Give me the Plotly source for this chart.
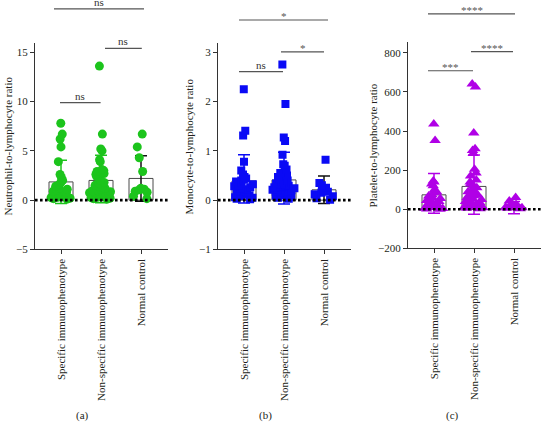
import plotly.graph_objects as go

categories = ["Specific immunophenotype", "Non-specific immunophenotype", "Normal control"]

# ---- Panel (a): Neutrophil-to-lymphocyte ratio ----
nlr_specific = [7.8, 6.7, 6.2, 5.4, 3.9, 2.6, 2.3, 2.0, 1.8, 1.6, 1.4, 1.2, 1.1, 1.0,
                0.9, 0.8, 0.7, 0.6, 0.55, 0.5, 0.45, 0.4, 0.35, 0.3, 0.25, 0.2, 0.15, 0.1]
nlr_nonspecific = [13.6, 6.7, 5.2, 5.0, 4.1, 3.9, 3.1, 3.0, 2.9, 2.7, 2.6, 2.4, 2.0, 1.8,
                   1.7, 1.6, 1.5, 1.4, 1.3, 1.2, 1.1, 1.0, 0.95, 0.9, 0.85, 0.8, 0.75, 0.7,
                   0.65, 0.6, 0.55, 0.5, 0.45, 0.4, 0.35, 0.3, 0.25, 0.2, 0.15, 0.1]
nlr_normal = [6.7, 5.4, 4.3, 2.9, 1.2, 1.1, 1.05, 0.9, 0.8, 0.4, 0.15]
nlr_mean = [1.85, 2.0, 2.2]
nlr_err_plus = [2.2, 2.55, 2.3]
nlr_err_minus = [2.2, 2.27, 2.3]

# ---- Panel (b): Monocyte-to-lymphocyte ratio ----
mlr_specific = [2.25, 1.41, 1.31, 0.78, 0.6, 0.52, 0.47, 0.44, 0.42, 0.4, 0.38, 0.35,
                0.32, 0.3, 0.28, 0.26, 0.24, 0.22, 0.2, 0.18, 0.15, 0.12, 0.1, 0.08,
                0.06, 0.05, 0.03, 0.02]
mlr_nonspecific = [2.75, 1.95, 1.27, 1.2, 0.92, 0.73, 0.7, 0.62, 0.55, 0.5, 0.47, 0.44,
                   0.42, 0.4, 0.38, 0.36, 0.34, 0.32, 0.3, 0.29, 0.28, 0.27, 0.26, 0.25,
                   0.24, 0.22, 0.21, 0.2, 0.19, 0.18, 0.17, 0.16, 0.15, 0.14, 0.12, 0.1,
                   0.09, 0.07, 0.05, 0.03]
mlr_normal = [0.82, 0.35, 0.3, 0.25, 0.2, 0.17, 0.15, 0.12, 0.08, 0.04, 0.01]
mlr_mean = [0.39, 0.41, 0.21]
mlr_err_plus = [0.53, 0.56, 0.28]
mlr_err_minus = [0.45, 0.49, 0.28]

# ---- Panel (c): Platelet-to-lymphocyte ratio ----
plr_specific = [436, 352, 145, 140, 130, 120, 100, 90, 85, 75, 68, 60, 55, 50, 45, 40,
                35, 30, 26, 22, 18, 15, 12, 9, 6, 4, 2, 1]
plr_nonspecific = [640, 625, 390, 310, 300, 285, 205, 185, 170, 150, 140, 130, 120, 110,
                   100, 95, 90, 85, 80, 75, 70, 65, 60, 55, 50, 45, 40, 35, 30, 28, 25,
                   22, 20, 18, 15, 12, 10, 8, 5, 3]
plr_normal = [60, 42, 30, 25, 20, 15, 12, 10, 8, 5, 3]
plr_mean = [74, 117, 9]
plr_err_plus = [109, 161, 31]
plr_err_minus = [94, 142, 31]

y_titles = ["Neutrophil-to-lymphocyte ratio", "Monocyte-to-lymphocyte ratio",
            "Platelet-to-lymphocyte ratio"]
panel_tags = ["(a)", "(b)", "(c)"]

# ---- styling / layout constants ----
W, H = 542, 427
FONT = "Liberation Serif"
TXT = "#231f20"
X_RANGE = [-0.65, 2.675]
panels = [
    dict(groups=[nlr_specific, nlr_nonspecific, nlr_normal], mean=nlr_mean,
         ep=nlr_err_plus, em=nlr_err_minus, color="#1cc41c", symbol="circle", msize=9,
         err3="#111111", yrange=[-5, 15.9], dtick=5, xpx=(35, 168), ypx=(44, 253),
         title_x=8, tag_x=82),
    dict(groups=[mlr_specific, mlr_nonspecific, mlr_normal], mean=mlr_mean,
         ep=mlr_err_plus, em=mlr_err_minus, color="#0a0af5", symbol="square", msize=8,
         err3="#111111", yrange=[-1, 3.18], dtick=1, xpx=(218, 351), ypx=(44, 253),
         title_x=189, tag_x=265),
    dict(groups=[plr_specific, plr_nonspecific, plr_normal], mean=plr_mean,
         ep=plr_err_plus, em=plr_err_minus, color="#b000e6", symbol="triangle-up",
         msize=10, err3="#b000e6", yrange=[-200, 853], dtick=200, xpx=(408, 541),
         ypx=(43, 252), title_x=373, tag_x=452),
]

# significance brackets: (x0, x1, y, text)
brackets = [
    [(-0.175, 2.075, 19.4, "ns"), (1.1, 2.02, 15.4, "ns"), (-0.025, 0.99, 9.9, "ns")],
    [(-0.125, 2.1, 3.654, "*"), (0.925, 2.0, 3.008, "*"), (-0.125, 0.975, 2.608, "ns")],
    [(-0.15, 2.025, 999, "****"), (0.925, 1.975, 806, "****"), (-0.15, 0.975, 708, "***")],
]

fig = go.Figure()
shapes, annotations = [], []

for i, p in enumerate(panels):
    sfx = "" if i == 0 else str(i + 1)
    xa, ya = "x" + sfx, "y" + sfx
    # bars with error bars (one trace per category so error colour can differ)
    for j, cat in enumerate(categories):
        ecol = p["color"] if j < 2 else p["err3"]
        fig.add_trace(go.Bar(
            x=[cat], y=[p["mean"][j]], width=0.6, xaxis=xa, yaxis=ya,
            marker=dict(color="rgba(0,0,0,0)", line=dict(color="#4a4a4a", width=1)),
            error_y=dict(type="data", symmetric=False, array=[p["ep"][j]],
                         arrayminus=[p["em"][j]], color=ecol, thickness=1.5, width=6),
            showlegend=False, hoverinfo="skip"))
    # scatter points (jittered by library)
    for j, cat in enumerate(categories):
        vals = p["groups"][j]
        fig.add_trace(go.Box(
            x=[cat] * len(vals), y=vals, xaxis=xa, yaxis=ya, width=0.62,
            boxpoints="all", jitter=0.95, pointpos=0,
            fillcolor="rgba(0,0,0,0)", line=dict(width=0, color="rgba(0,0,0,0)"),
            whiskerwidth=0,
            marker=dict(color=p["color"], symbol=p["symbol"], size=p["msize"],
                        line=dict(width=0)),
            showlegend=False, hoverinfo="y"))

    x0p, x1p = p["xpx"]
    y0p, y1p = p["ypx"]
    xdom = [x0p / W, x1p / W]
    ydom = [1 - y1p / H, 1 - y0p / H]
    xkey = "xaxis" + sfx
    ykey = "yaxis" + sfx
    fig.update_layout(**{
        xkey: dict(domain=xdom, anchor=ya, range=X_RANGE, type="category",
                   categoryorder="array", categoryarray=categories,
                   showline=True, linecolor="#333333", linewidth=1,
                   ticks="outside", ticklen=4, tickcolor="#333333", tickangle=-90,
                   tickfont=dict(family=FONT, size=11, color=TXT),
                   showgrid=False, zeroline=False, fixedrange=True),
        ykey: dict(domain=ydom, anchor=xa, range=p["yrange"], dtick=p["dtick"],
                   tick0=0, showline=True, linecolor="#333333", linewidth=1,
                   ticks="outside", ticklen=4, tickcolor="#333333",
                   tickfont=dict(family=FONT, size=11, color=TXT),
                   showgrid=False, zeroline=False, fixedrange=True),
    })

    # dotted zero line
    shapes.append(dict(type="line", xref=xa, yref=ya, x0=X_RANGE[0], x1=X_RANGE[1],
                       y0=0, y1=0, layer="above",
                       line=dict(color="#000000", width=2.6, dash="2.6px,2.4px")))

    # brackets
    yr = p["yrange"]
    for (bx0, bx1, by, txt) in brackets[i]:
        fx0 = (bx0 - X_RANGE[0]) / (X_RANGE[1] - X_RANGE[0])
        fx1 = (bx1 - X_RANGE[0]) / (X_RANGE[1] - X_RANGE[0])
        fy = (by - yr[0]) / (yr[1] - yr[0])
        shapes.append(dict(type="line", xref=xa + " domain", yref=ya + " domain",
                           x0=fx0, x1=fx1, y0=fy, y1=fy,
                           line=dict(color="#555555", width=1.2)))
        is_star = "*" in txt
        annotations.append(dict(
            xref=xa + " domain", yref=ya + " domain", x=(fx0 + fx1) / 2, y=fy,
            text=txt, showarrow=False, xanchor="center", yanchor="bottom",
            yshift=-4 if is_star else -1,
            font=dict(family=FONT, size=11, color="#555555" if is_star else "#333333")))

    # y-axis title
    annotations.append(dict(
        xref="paper", yref="paper", x=p["title_x"] / W, y=(ydom[0] + ydom[1]) / 2,
        text=y_titles[i], textangle=-90, showarrow=False, xanchor="center",
        yanchor="middle", font=dict(family=FONT, size=11, color=TXT)))
    # panel tag
    annotations.append(dict(
        xref="paper", yref="paper", x=p["tag_x"] / W, y=1 - 421 / H,
        text=panel_tags[i], showarrow=False, xanchor="center", yanchor="middle",
        font=dict(family=FONT, size=11, color=TXT)))

fig.update_layout(
    width=W, height=H, margin=dict(l=0, r=0, t=0, b=0),
    paper_bgcolor="white", plot_bgcolor="white",
    barmode="overlay", boxmode="overlay", showlegend=False,
    shapes=shapes, annotations=annotations,
    font=dict(family=FONT, size=11, color=TXT),
)

fig.write_html("out.html")
